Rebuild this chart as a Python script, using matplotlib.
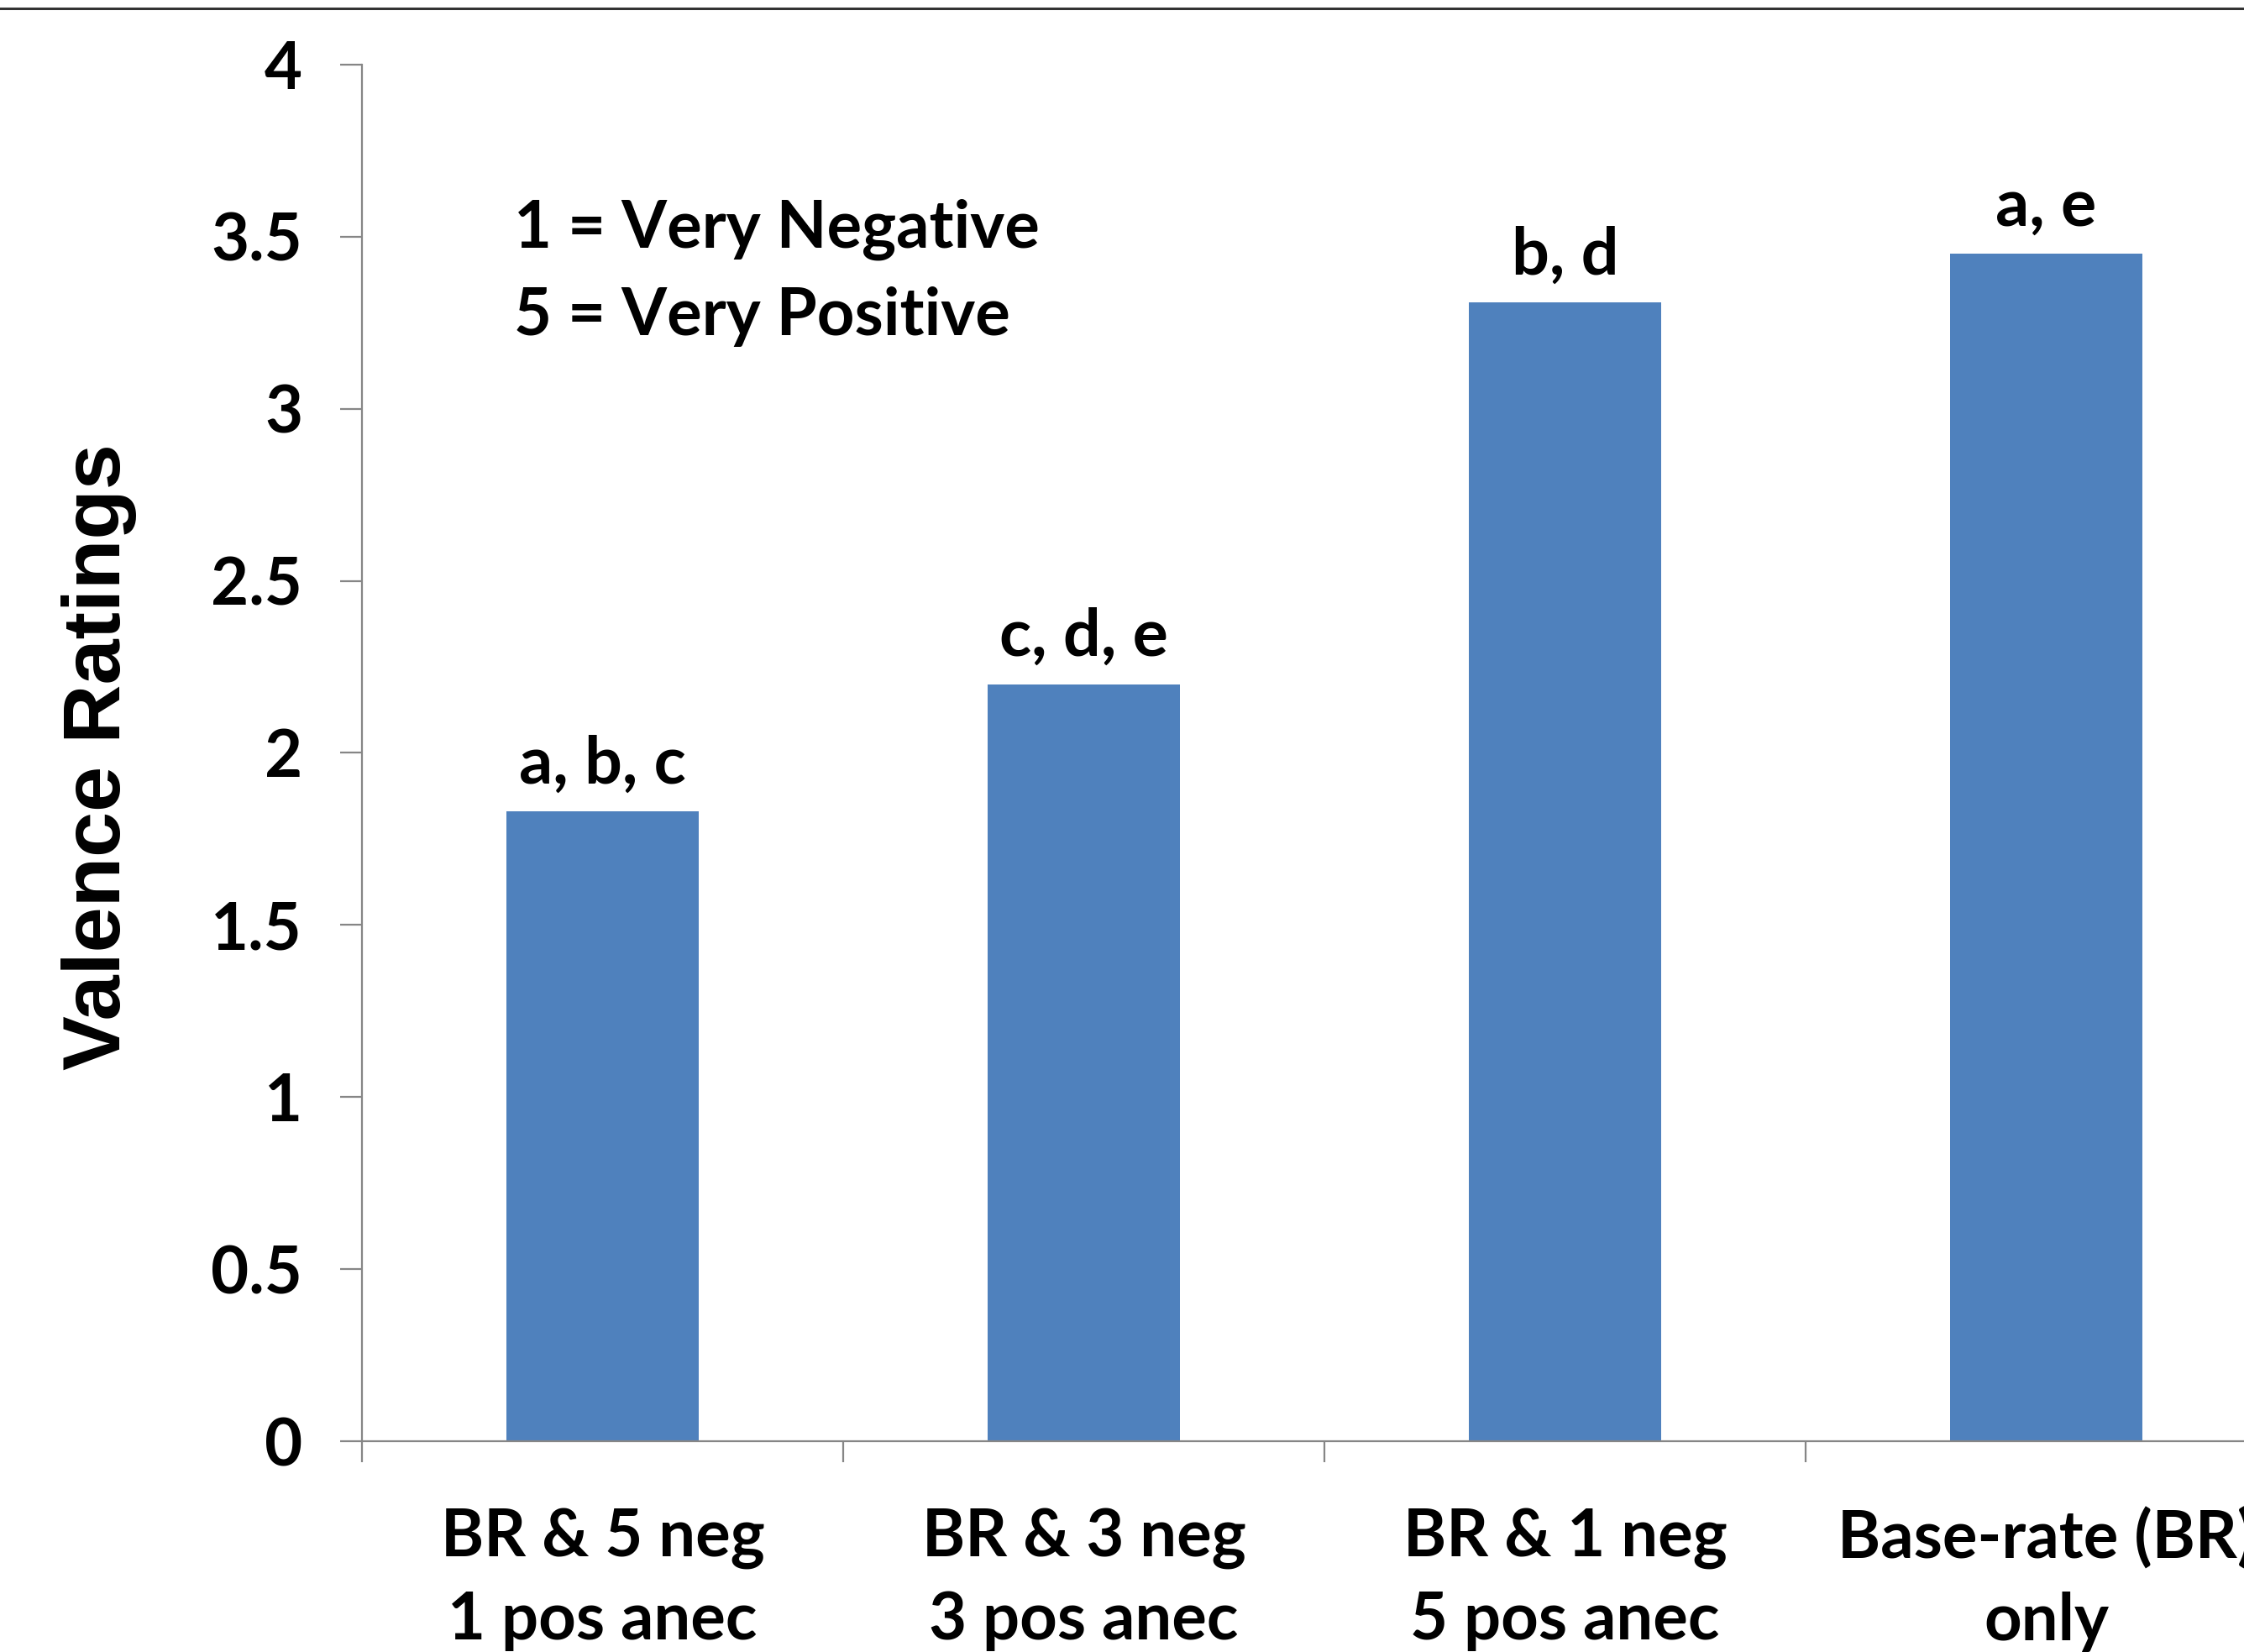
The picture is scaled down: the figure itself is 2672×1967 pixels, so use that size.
import matplotlib
matplotlib.use("Agg")
import matplotlib.pyplot as plt
from matplotlib.lines import Line2D

categories = ["BR & 5 neg\n1 pos anec", "BR & 3 neg\n3 pos anec",
              "BR & 1 neg\n5 pos anec", "Base-rate (BR)\nonly"]
values = [1.83, 2.20, 3.31, 3.45]
sig_labels = ["a, b, c", "c, d, e", "b, d", "a, e"]
yticks = [0, 0.5, 1, 1.5, 2, 2.5, 3, 3.5, 4]
ytick_labels = ["0", "0.5", "1", "1.5", "2", "2.5", "3", "3.5", "4"]
note_lines = ["1 = Very Negative", "5 = Very Positive"]

FONT = "Lato"
BAR = "#4F81BD"
AXC = "#868686"

fig = plt.figure(figsize=(26.72, 19.67), dpi=100)
ax = fig.add_axes([0.1613, 0.1276, 0.8578, 0.8333])

x = list(range(len(categories)))
ax.bar(x, values, width=0.4, color=BAR, zorder=2)
ax.set_xlim(-0.5, 3.5)
ax.set_ylim(0, 4)

for s in ["top", "right"]:
    ax.spines[s].set_visible(False)
for s in ["left", "bottom"]:
    ax.spines[s].set_color(AXC)
    ax.spines[s].set_linewidth(1.6)
ax.spines["left"].set_clip_on(False)

ax.set_yticks(yticks)
ax.set_yticklabels(ytick_labels, fontfamily=FONT, fontweight="bold", fontsize=56)
ax.tick_params(axis="y", direction="out", length=19, width=1.6, color=AXC, pad=32)

ax.set_xticks(x)
ax.set_xticklabels(categories, fontfamily=FONT, fontweight="bold", fontsize=56,
                   linespacing=1.44)
ax.tick_params(axis="x", which="major", length=0, pad=57)
ax.set_xticks([-0.5, 0.5, 1.5, 2.5, 3.5], minor=True)
ax.tick_params(axis="x", which="minor", direction="out", length=18, width=1.6, color=AXC)

ax.set_ylabel("Valence Ratings", fontfamily="Liberation Sans", fontweight="bold",
              fontsize=70)
ax.yaxis.set_label_coords(-0.117, 0.497)

for xi, v, lab in zip(x, values, sig_labels):
    ax.annotate(lab, (xi, v), xytext=(0, 14), textcoords="offset points",
                ha="center", va="bottom", fontfamily=FONT, fontweight="bold", fontsize=57)

ax.text(0.079, 0.880, note_lines[0], transform=ax.transAxes, ha="left", va="center",
        fontfamily=FONT, fontweight="bold", fontsize=56)
ax.text(0.079, 0.817, note_lines[1], transform=ax.transAxes, ha="left", va="center",
        fontfamily=FONT, fontweight="bold", fontsize=56)

fig.add_artist(Line2D([0, 1], [1 - 10 / 1967, 1 - 10 / 1967], transform=fig.transFigure,
                      color="#333333", linewidth=2.2))

fig.savefig("out.png", dpi=100)
